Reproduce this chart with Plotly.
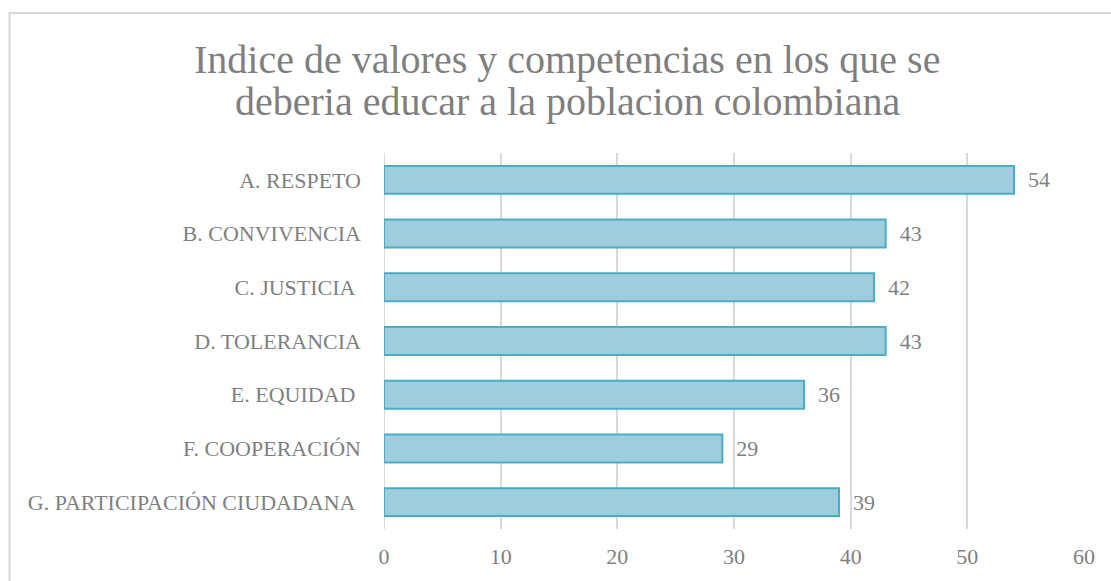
import plotly.graph_objects as go

categories = ["A. RESPETO", "B. CONVIVENCIA", "C. JUSTICIA\u00a0", "D. TOLERANCIA",
              "E. EQUIDAD\u00a0", "F. COOPERACIÓN", "G. PARTICIPACIÓN CIUDADANA\u00a0"]
values = [54, 43, 42, 43, 36, 29, 39]
tick_values = [0, 10, 20, 30, 40, 50, 60]
title_lines = ["Indice de valores y competencias en los que se",
               "deberia educar a la poblacion colombiana"]

FONT = "Liberation Serif"
GRAY = "#7f7f7f"

fig = go.Figure(go.Bar(
    y=categories, x=values, orientation="h",
    marker=dict(color="#9fcddd", line=dict(color="#4bacc6", width=2)),
    width=0.52,
    text=values,
    texttemplate="\u00a0\u00a0%{x}",
    textposition="outside",
    textfont=dict(family=FONT, size=22, color=GRAY),
    cliponaxis=False,
))

W, H = 1111, 581
L, R, T, B = 384, 27, 153, 52
pw, ph = W - L - R, H - T - B

def px_x(p):
    return (p - L) / pw

def px_y(p):
    return (H - B - p) / ph

annotations = []
for line, yc in zip(title_lines, [59, 102]):
    annotations.append(dict(text=line, xref="paper", yref="paper",
                            x=px_x(567), y=px_y(yc), xanchor="center", yanchor="middle",
                            showarrow=False,
                            font=dict(family=FONT, size=40, color=GRAY)))

fig.update_layout(
    width=W, height=H,
    margin=dict(l=L, r=R, t=T, b=B),
    paper_bgcolor="white", plot_bgcolor="white",
    showlegend=False,
    annotations=annotations,
    xaxis=dict(range=[0, 60], tickvals=tick_values, showgrid=True,
               gridcolor="#d9d9d9", gridwidth=1.5, zeroline=False,
               showline=False, ticks="",
               tickfont=dict(family=FONT, size=22, color=GRAY),
               ticklabelstandoff=12),
    yaxis=dict(categoryorder="array", categoryarray=categories[::-1],
               showgrid=False, zeroline=False, showline=False, ticks="",
               tickfont=dict(family=FONT, size=22, color=GRAY),
               ticklabelstandoff=22),
    shapes=[
        dict(type="rect", xref="paper", yref="paper",
             x0=px_x(9.5), x1=px_x(1114), y0=px_y(585), y1=px_y(13),
             line=dict(color="#d9d9d9", width=2), fillcolor="rgba(0,0,0,0)",
             layer="below"),
        dict(type="line", xref="x", yref="paper", x0=0, x1=0, y0=0, y1=1,
             line=dict(color="#d9d9d9", width=2), layer="below"),
    ],
)

fig.write_html("out.html", config={"displayModeBar": False},
               post_script="document.body.style.margin='0';")
